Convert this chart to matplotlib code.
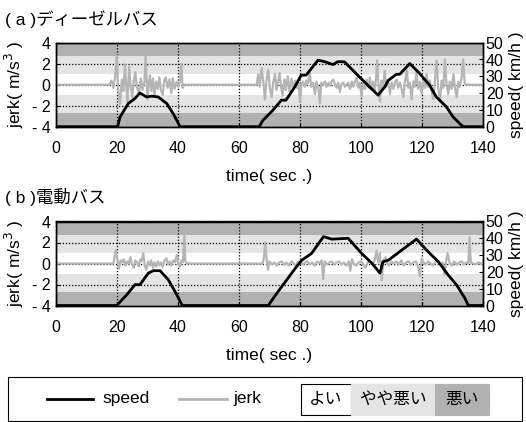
import matplotlib
matplotlib.use("Agg")
import matplotlib.pyplot as plt
from matplotlib.patches import Rectangle
from matplotlib.lines import Line2D

plt.rcParams['font.family'] = ['Liberation Sans', 'Noto Sans CJK JP']

# --- data ---
titles = ["( a )ディーゼルバス", "( b )電動バス"]
time_ticks = [0, 20, 40, 60, 80, 100, 120, 140]
jerk_ticks = [4, 2, 0, -2, -4]
jerk_ticklabels = ["4", "2", "0", "- 2", "- 4"]
speed_ticks = [0, 10, 20, 30, 40, 50]

# comfort bands on the jerk axis: (low, high, colour)
bands = [(-4, -2.7, "#b1b1b1"), (-2.7, -1, "#e4e4e4"), (-1, 1, "#ffffff"),
         (1, 2.7, "#e4e4e4"), (2.7, 4, "#b1b1b1")]

speed_a_t = [0, 20.2, 21, 23.7, 25.9, 27.5, 29.7, 31.4, 33.5, 36.3, 38.5, 40.7,
             66.6, 67.9, 71.1, 73.9, 75.4, 78.3, 80.4, 82, 85.9, 88, 90.8, 92.4,
             94.6, 99.5, 102.8, 105.6, 107.8, 108.9, 111.6, 112.7, 116, 119.2,
             122.5, 124.7, 128, 130.2, 132.9, 133.6, 140]
speed_a_v = [0, 0, 5.8, 13.8, 16.8, 20.1, 17.7, 18.2, 17.7, 13.8, 7.5, 0,
             0, 3.9, 9.8, 15.8, 15.8, 23.7, 30.7, 30.7, 39.6, 38.7, 37, 38.7,
             38.6, 29.6, 23.7, 18.8, 23.7, 27.5, 31.2, 31.2, 37.6, 31.7,
             24.7, 17.7, 11.8, 5.8, 0.9, 0, 0]

speed_b_t = [0, 19.9, 23.2, 25.9, 27.5, 30.3, 31.9, 34.1, 36.8, 39.6, 41.4,
             69.6, 72.4, 78.4, 80.6, 83.8, 87.7, 90.4, 95.8, 100.2, 103.5, 106.2,
             107.2, 109, 113.3, 118.2, 122, 125.4, 128.6, 131.4, 134.1, 135.2, 140]
speed_b_v = [0, 0, 6.4, 12.4, 12.4, 19.3, 20.7, 20.7, 15.4, 6.4, 0,
             0, 7.3, 22, 27, 31, 41, 39.5, 40, 31, 25.3, 19.3,
             26, 27, 32.9, 39.5, 32, 26, 18.1, 12.1, 4.2, 0, 0]

jerk_a_t = [0, 17.5, 18.2, 18.8, 19.4, 19.9, 20.4, 21, 21.6, 22.1, 22.6, 23.1, 23.4,
            24, 24.5, 25, 25.5, 26, 26.5, 27.2, 27.8, 28.4, 29, 29.4, 30, 30.5,
            30.8, 31.3, 31.8, 32.3, 32.8, 33.4, 33.9, 34.4, 35, 35.5, 36, 36.6,
            37.2, 37.8, 38.3, 38.9, 39.5, 40, 40.6, 41.1, 41.5, 42,
            65.8, 66.3, 66.8, 67.4, 68, 68.5, 69, 69.6, 70.1, 70.7, 71.2, 71.8,
            72.3, 72.8, 73.3, 73.8, 74.3, 74.9, 75.4, 76, 76.6, 77.2, 77.8, 78.4,
            79, 79.5, 80, 80.5, 81, 81.6, 82.1, 82.6, 83.2, 83.7, 84.3, 84.9,
            85.4, 86, 86.5, 87, 87.6, 88.2, 88.8, 89.4, 89.9, 90.4, 90.9, 91.5,
            92, 92.5, 93.1, 93.6, 94.2, 94.7, 95.3, 95.8, 96.4, 97, 97.5, 98,
            98.6, 99.1, 99.6, 100.2, 100.7, 101.3, 101.8, 102.4, 102.9, 103.4,
            103.9, 104.4, 104.9, 105.3, 105.8, 106.2, 106.7, 107.2, 107.8, 108.3,
            108.9, 109.5, 110, 110.6, 111.1, 111.7, 112.2, 112.8, 113.3, 113.9,
            114.4, 115, 115.5, 116, 116.6, 117.1, 117.6, 118.2, 118.7, 119.3,
            119.9, 120.4, 121, 121.5, 122, 122.6, 123.1, 123.7, 124.2, 124.8,
            125.3, 125.9, 126.4, 127, 127.5, 128, 128.6, 129.1, 129.7, 130.3,
            130.8, 131.4, 131.9, 132.4, 132.9, 133.5, 134, 134.5, 140]
jerk_a_v = [0, 0, 0.4, -0.3, 0.8, 2.8, -0.5, -1.8, 0.5, -0.6, 1.9, -0.4, -1.6,
            1.7, -0.3, -1.2, 0.4, 1.2, -0.2, -0.9, 0.6, -0.5, 0.3, 2.8, -1.4, 0.2,
            0.9, -0.6, 0.6, -1.1, 0.3, -0.4, 0.7, -0.5, -1.0, 0.4, 0.7, -0.3,
            0.5, -0.8, 0.6, -0.4, 0.3, -0.2, 0.2, 2.0, -0.3, 0,
            0, 1.0, -0.2, 1.6, 0.2, -1.4, 0.4, 1.4, -0.3, -1.2, 0.2, 1.0,
            -0.5, 0.3, 1.1, -0.2, -1.0, 0.5, -0.5, 0.8, -0.7, 0.6, -0.4, 0.4,
            -0.3, 0.2, -1.6, 0.1, 0.3, -0.2, 0.4, 0.1, 1.2, -0.2, 0.2, -0.9,
            0.3, -0.3, -1.8, 0.2, 0, 0.3, -0.2, 0.2, -0.1, 0.3, 0.5, 0,
            -0.3, 0.2, -0.7, 0.1, 0.2, -0.2, 0, 0.2, -0.4, 0.3, -0.2, 0.3,
            0.7, -0.3, 0.2, -1.2, 0.2, -0.4, 0.5, -0.3, 0.7, -0.5,
            0.3, -0.7, 0.5, 2.3, -0.4, -1.6, 0.4, -0.3, 1.3, -0.2,
            0.3, -0.9, 0.2, -0.4, 0.2, 0.5, -0.3, 0.2, -0.4, -1.2,
            0.3, 1.4, -0.3, 0.2, -1.4, 0.3, -0.2, 1.2, -0.4, 0.3,
            -0.9, 0.4, -0.3, 1.0, -0.2, 0.4, -0.6, -1.4, 0.3, 2.3,
            -0.2, -1.6, 0.4, -0.3, 2.4, 0.1, -0.9, 0.3, -0.4, 1.0,
            -0.3, -1.2, 0.3, -0.2, 0.5, 2.4, 0.1, 0, 0]

jerk_b_t = [0, 18.8, 19.3, 19.7, 20.2, 20.6, 21.2, 21.7, 22.2, 22.8, 23.3, 23.8,
            24.4, 24.9, 25.5, 26, 26.6, 27.1, 27.6, 28.1, 28.6, 29.1, 29.6, 30.2,
            30.7, 31.2, 31.8, 32.3, 32.9, 33.4, 34, 34.5, 35, 35.6, 36.2, 36.7,
            37.3, 37.8, 38.4, 39, 39.6, 40.1, 40.6, 41.1, 41.6, 42.1, 42.4, 43,
            67.8, 68.2, 68.6, 69.1, 69.5, 70, 70.8, 71.6, 72.4, 73.2, 74, 74.8,
            75.6, 76.4, 77.2, 78, 78.6, 79.2, 80, 80.8, 81.6, 82.4, 83.2, 84,
            84.8, 85.6, 86.4, 87.1, 87.6, 88.1, 88.8, 89.6, 90.4, 91.2, 92, 92.8,
            93.6, 94.4, 95.2, 96, 96.5, 97, 97.6, 98.4, 99.2, 100, 100.8, 101.5,
            102.2, 103, 103.8, 104.5, 105.1, 105.6, 106.2, 106.8, 107.4, 108, 108.5,
            109.2, 110, 110.8, 111.6, 112.4, 113.2, 114, 114.8, 115.6, 116.4,
            117.2, 118, 118.7, 119.3, 119.9, 120.5, 121.2, 122, 122.8, 123.6,
            124.4, 125.2, 126, 126.8, 127.4, 127.9, 128.4, 129, 129.8, 130.6,
            131.4, 132.2, 133, 133.8, 134.6, 135.2, 135.6, 136, 136.8, 137.6,
            138.4, 139.2, 140]
jerk_b_v = [0, 0, 0.8, 1.3, 0.2, -0.5, 0.3, 0.1, 0.4, -0.2, 0.2, 0.0,
            0.6, -0.1, -0.4, 0.3, 0.1, -0.3, 0.4, 0.2, 1.0, -0.2, -0.6, 0.2,
            -0.2, 0.3, -0.4, 0.1, -0.3, 0.2, -0.2, 0.1, -0.3, 0.3, 0.5, -0.1,
            0.2, -0.2, 0.3, 0.1, 0.8, -0.1, -0.3, 0.3, 0.1, 2.8, 0.2, 0,
            0, 0.6, 2.0, 0.3, -0.6, 0.2, -0.1, 0.1, -0.2, 0.1, 0.2, -0.1,
            0.1, -0.2, 0.2, 0.0, -0.3, 0.1, 0.2, -0.1, 0.1, 0.2, -0.1, 0.1,
            -0.2, 0.2, 0.0, 0.3, -1.5, 0.2, -0.1, 0.1, 0.2, -0.1, 0.1, 0.2,
            -0.1, 0.1, -0.2, 0.2, -0.7, 0.4, 0.0, -0.2, 0.1, 0.2, -0.1, -0.4,
            0.1, 0.2, -0.1, 0.3, 1.2, 0.1, 1.0, -1.6, 0.3, 0.6, 0.1,
            -0.2, 0.2, 0.0, 0.2, -0.1, 0.3, -0.2, 0.1, 0.2, -0.1,
            0.1, 0.2, -0.3, -1.2, 0.5, 0.1, -0.1, 0.2, 0.0, -0.2,
            0.1, 0.2, -0.1, 0.1, -1.1, 0.2, 1.0, 0.1, -0.2, 0.2,
            -0.1, 0.1, 0.2, -0.1, 0.1, 0.0, 2.5, 0.1, 0.0, -0.1,
            0.1, 0.0, 0]

panels = [(speed_a_t, speed_a_v, jerk_a_t, jerk_a_v),
          (speed_b_t, speed_b_v, jerk_b_t, jerk_b_v)]

W, H = 526, 422
fig = plt.figure(figsize=(W / 100, H / 100), dpi=100)

axes_top_px = [42.7, 221.5]
title_y_px = [19, 197]
jerk_color = "#b5b5b5"
grid_style = dict(color="black", linestyle=(0, (1, 1.5)), linewidth=0.9)
tick_fs = 11.5
label_fs = 12.5

for i, (st, sv, jt, jv) in enumerate(panels):
    top = axes_top_px[i]
    ax = fig.add_axes([56 / W, 1 - (top + 84) / H, 427 / W, 84 / H])
    for lo, hi, c in bands:
        ax.axhspan(lo, hi, color=c, lw=0, zorder=0)
    ax.plot(jt, jv, color=jerk_color, lw=1.6, zorder=3)
    ax.set_xlim(0, 140)
    ax.set_ylim(-4, 4)
    ax.set_xticks(time_ticks)
    ax.set_yticks(jerk_ticks)
    ax.set_yticklabels(jerk_ticklabels)
    ax.grid(True, **grid_style)
    ax.tick_params(direction="in", length=3, labelsize=tick_fs)
    ax.tick_params(axis="x", pad=10.5)
    ax.tick_params(axis="y", pad=4)
    ax.set_ylabel("jerk( m/s$^3$ )", fontsize=label_fs, labelpad=4)
    ax.set_xlabel("time( sec .)", fontsize=label_fs, labelpad=9)

    ax2 = ax.twinx()
    ax2.plot(st, sv, color="black", lw=2.0, zorder=4)
    ax2.set_ylim(0, 50)
    ax2.set_yticks(speed_ticks)
    ax2.tick_params(direction="in", length=3, labelsize=tick_fs, pad=2)
    ax2.set_ylabel("speed( km/h )", fontsize=label_fs, labelpad=4)
    for a in (ax, ax2):
        for s in a.spines.values():
            s.set_color("black")
            s.set_linewidth(1.0)

    fig.text(5 / W, 1 - title_y_px[i] / H, titles[i], fontsize=12.5,
             ha="left", va="center")

# legend panel drawn in figure pixels
fig.patches.append(Rectangle((8 / W, 1 / H), 514 / W, 44 / H, transform=fig.transFigure,
                             facecolor="white", edgecolor="black", lw=0.8))
ly = 1 - 399 / H
fig.lines.append(Line2D([47 / W, 93 / W], [ly, ly], color="black", lw=2.0,
                        transform=fig.transFigure))
fig.text(102 / W, ly, "speed", fontsize=12.5, va="center")
fig.lines.append(Line2D([179 / W, 227 / W], [ly, ly], color=jerk_color, lw=2.0,
                        transform=fig.transFigure))
fig.text(233 / W, ly, "jerk", fontsize=12.5, va="center")

legend_boxes = [("よい", 300.7, 350.7, "white"), ("やや悪い", 350.7, 435, "#e4e4e4"),
                ("悪い", 435, 489, "#b1b1b1")]
for label, x0, x1, c in legend_boxes:
    edge = "black" if c == "white" else c
    fig.patches.append(Rectangle((x0 / W, 1 - 415 / H), (x1 - x0) / W, 31 / H,
                                 transform=fig.transFigure, facecolor=c,
                                 edgecolor=edge, lw=0.8))
    fig.text((x0 + x1) / 2 / W, 1 - 399.5 / H, label, fontsize=12,
             ha="center", va="center")

fig.savefig("out.png", dpi=100)
